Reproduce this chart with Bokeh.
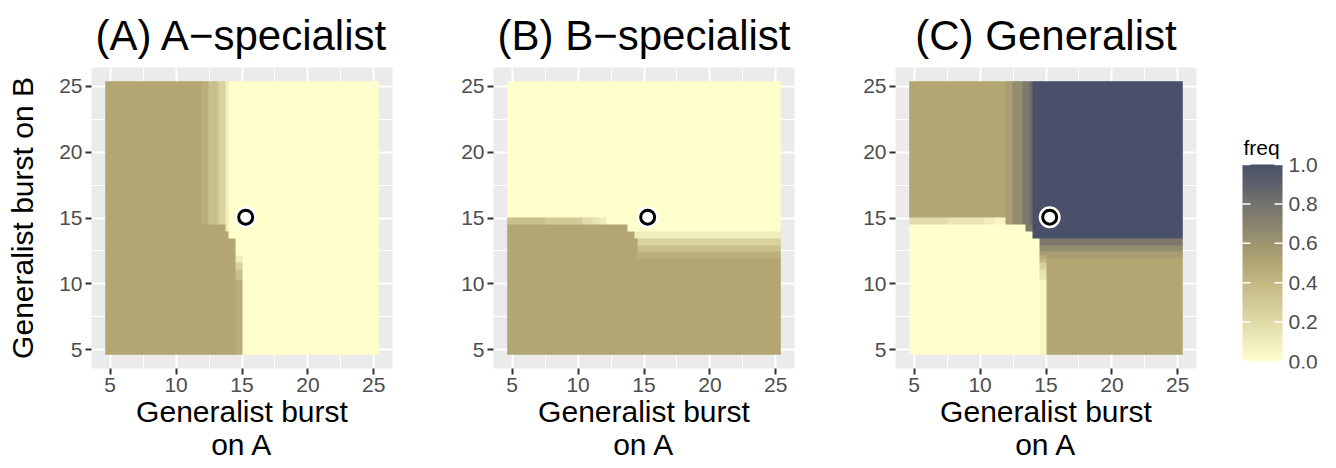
import numpy as np
from bokeh.plotting import figure
from bokeh.layouts import row
from bokeh.models import Range1d, FixedTicker, LinearColorMapper
from bokeh.core.properties import value
from bokeh.embed import file_html
from bokeh.resources import INLINE

# ---------------- data ----------------
burst_ticks = [5, 10, 15, 20, 25]
burst_minor = [2.5, 7.5, 12.5, 17.5, 22.5, 27.5]
axis_lo, axis_hi = 3.58, 26.42          # visible range of both axes
grid_lo, grid_hi = 4.62, 25.38          # extent of the tile grid
n_cells = 80                            # tiles per side

# code letter -> frequency
level_codes = "abcdefghijklmnopqrstu"
level_freqs = [0.00, 0.05, 0.10, 0.15, 0.20, 0.25, 0.30, 0.35, 0.40, 0.45, 0.50,
               0.55, 0.60, 0.65, 0.70, 0.75, 0.80, 0.85, 0.90, 0.95, 1.00]

# rows from top to bottom: (number of rows, run-length codes left to right)
freq_A = [
    (42, "k28 j2 h3 f2 c1 a44"),
    (2,  "k35 c1 a44"),
    (2,  "k36 a44"),
    (5,  "k38 a42"),
    (2,  "k38 c2 a40"),
    (2,  "k38 f2 a40"),
    (3,  "k38 h2 a40"),
    (22, "k38 j2 a40"),
]
freq_B = [
    (40, "a80"),
    (2,  "h11 g11 e3 d2 c2 a51"),
    (2,  "k35 a45"),
    (2,  "k37 c43"),
    (2,  "k38 f42"),
    (2,  "k38 h42"),
    (2,  "k38 j42"),
    (28, "k80"),
]
freq_C = [
    (40, "k28 l2 n3 p2 r1 u44"),
    (2,  "e11 d11 c3 b3 l2 n3 p2 r1 u44"),
    (2,  "a34 p2 u44"),
    (2,  "a36 u44"),
    (2,  "a38 p42"),
    (2,  "a38 n42"),
    (1,  "a38 l42"),
    (1,  "a38 j2 l40"),
    (1,  "a38 i2 k40"),
    (2,  "a38 f2 k40"),
    (3,  "a38 d2 k40"),
    (22, "a38 b2 k40"),
]

equilibrium_x = [15.28]
equilibrium_y = [15.06]

titles = ["(A) A\u2212specialist", "(B) B\u2212specialist", "(C) Generalist"]
x_title = "Generalist burst\non A"
y_title = "Generalist burst on B"
legend_title = "freq"
legend_ticks = [0.0, 0.2, 0.4, 0.6, 0.8, 1.0]
legend_labels = ["0.0", "0.2", "0.4", "0.6", "0.8", "1.0"]

# ---------------- colours ----------------
anchor_pos = [0.0, 0.5, 1.0]
anchor_rgb = [(0xFF, 0xFF, 0xCC), (0xB2, 0xA6, 0x72), (0x4A, 0x50, 0x69)]
t = np.linspace(0, 1, 256)
palette = []
for v in t:
    r = np.interp(v, anchor_pos, [c[0] for c in anchor_rgb])
    g = np.interp(v, anchor_pos, [c[1] for c in anchor_rgb])
    b = np.interp(v, anchor_pos, [c[2] for c in anchor_rgb])
    palette.append("#%02x%02x%02x" % (int(round(r)), int(round(g)), int(round(b))))
mapper = LinearColorMapper(palette=palette, low=0.0, high=1.0)

FONT = "Liberation Sans"
FIG_H = 466
TOP = 66
FRAME = 301
BOTTOM = FIG_H - TOP - FRAME


def decode(spec):
    rows = []
    lut = dict(zip(level_codes, level_freqs))
    for count, runs in spec:
        line = []
        for tok in runs.split():
            line += [lut[tok[0]]] * int(tok[1:])
        assert len(line) == n_cells, runs
        rows += [line] * count
    assert len(rows) == n_cells
    return np.array(rows[::-1], dtype=float)   # bottom row first


def make_panel(title, spec, show_ylabel, left_border):
    p = figure(frame_width=FRAME, frame_height=FRAME,
               x_range=Range1d(axis_lo, axis_hi), y_range=Range1d(axis_lo, axis_hi),
               output_backend="svg", toolbar_location=None,
               min_border_left=left_border, min_border_right=18,
               min_border_top=TOP, min_border_bottom=BOTTOM)
    p.background_fill_color = "#EBEBEB"
    p.border_fill_color = "white"
    p.outline_line_color = None

    p.title.text = title
    p.title.align = "center"
    p.title.text_font = FONT
    p.title.text_font_size = "42px"
    p.title.text_font_style = "normal"
    p.title.text_color = "black"
    p.title.text_line_height = 0.9
    p.title.standoff = 18

    ticker = FixedTicker(ticks=burst_ticks, minor_ticks=burst_minor)
    for ax in (p.xaxis[0], p.yaxis[0]):
        ax.ticker = ticker
        ax.axis_line_color = None
        ax.major_tick_line_color = "#333333"
        ax.major_tick_line_width = 2
        ax.major_tick_out = 6
        ax.major_tick_in = 0
        ax.minor_tick_line_color = None
        ax.major_label_text_font = FONT
        ax.major_label_text_font_size = "21px"
        ax.major_label_text_color = "#4D4D4D"
        ax.major_label_standoff = 3
        ax.axis_label_text_font = FONT
        ax.axis_label_text_font_size = "30px"
        ax.axis_label_text_font_style = "normal"
        ax.axis_label_text_color = "black"
        ax.axis_label_text_line_height = 1.0
    p.xaxis.axis_label = x_title
    p.xaxis.axis_label_standoff = 0
    if show_ylabel:
        p.yaxis.axis_label = y_title
        p.yaxis.axis_label_standoff = 17

    for g in (p.xgrid[0], p.ygrid[0]):
        g.ticker = ticker
        g.grid_line_color = "white"
        g.grid_line_width = 2
        g.minor_grid_line_color = "white"
        g.minor_grid_line_width = 1

    p.image(image=[decode(spec)], x=grid_lo, y=grid_lo,
            dw=grid_hi - grid_lo, dh=grid_hi - grid_lo, color_mapper=mapper)

    p.scatter(x=equilibrium_x, y=equilibrium_y, size=22, fill_color="white", line_color=None)
    p.scatter(x=equilibrium_x, y=equilibrium_y, size=14, fill_color="white",
              line_color="black", line_width=3)
    return p


pA = make_panel(titles[0], freq_A, True, 91)
pB = make_panel(titles[1], freq_B, False, 83)
pC = make_panel(titles[2], freq_C, False, 83)

# ---------------- legend (colour bar) ----------------
# x in page pixels, y in freq units (bar spans 0..1 over 197 px); frame aligned with panels
LX0 = 1214
LW = 116
bar_px = 197.0
bar_top_px = 163
y_top = 1 + (bar_top_px - TOP) / bar_px
y_bot = 1 - (TOP + FRAME - bar_top_px) / bar_px
pL = figure(frame_width=LW, frame_height=FRAME,
            min_border_left=0, min_border_right=0,
            min_border_top=TOP, min_border_bottom=BOTTOM,
            x_range=Range1d(LX0, LX0 + LW), y_range=Range1d(y_bot, y_top),
            output_backend="svg", toolbar_location=None)
pL.axis.visible = False
pL.grid.visible = False
pL.outline_line_color = None
pL.background_fill_color = "white"
pL.border_fill_color = "white"

bar_x0, bar_w, tick_len = 1242, 40, 8
gradient = np.linspace(0, 1, 400).reshape(-1, 1)
pL.image(image=[gradient], x=bar_x0, y=0, dw=bar_w, dh=1, color_mapper=mapper)
n = len(legend_ticks)
pL.segment(x0=[bar_x0] * n, y0=legend_ticks, x1=[bar_x0 + tick_len] * n, y1=legend_ticks,
           line_color="white", line_width=1.5)
pL.segment(x0=[bar_x0 + bar_w - tick_len] * n, y0=legend_ticks, x1=[bar_x0 + bar_w] * n,
           y1=legend_ticks, line_color="white", line_width=1.5)
pL.text(x=[bar_x0 + bar_w + 6] * n, y=legend_ticks, text=legend_labels,
        text_font=value(FONT), text_font_size="21px", text_color="#4D4D4D",
        text_align="left", text_baseline="middle")
pL.text(x=[bar_x0 + 1], y=[1.0], text=[legend_title], y_offset=-6,
        text_font=value(FONT), text_font_size="21px", text_color="black",
        text_align="left", text_baseline="bottom")

layout = row(pA, pB, pC, pL)
open("out.html", "w").write(file_html(layout, INLINE))
